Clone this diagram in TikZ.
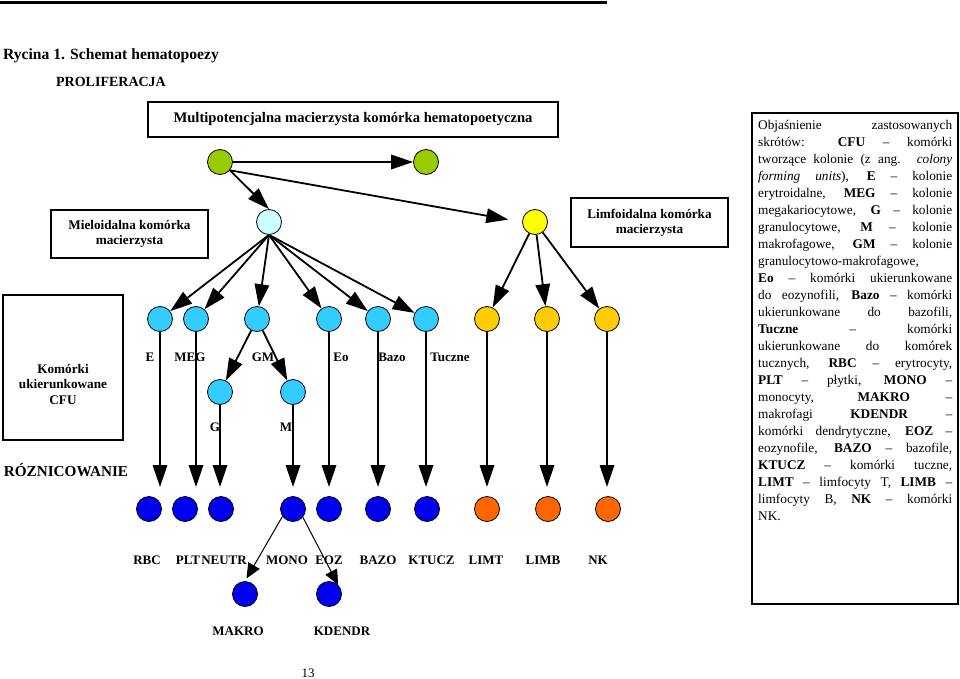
\documentclass[tikz,border=0pt]{standalone}
\usepackage{fontspec}
\setmainfont{Liberation Serif}
\usetikzlibrary{arrows.meta}
\definecolor{cgreen}{HTML}{99CC00}
\definecolor{clcyan}{HTML}{CCFFFF}
\definecolor{cyellow}{HTML}{FFFF00}
\definecolor{ccyan}{HTML}{33CCFF}
\definecolor{cgold}{HTML}{FFCC00}
\definecolor{corange}{HTML}{FF6600}
\definecolor{cblue}{HTML}{0000EE}
\begin{document}
\begin{tikzpicture}[x=1pt,y=-1pt,
  cell/.style={circle,draw=black,line width=0.8pt,minimum size=25pt,inner sep=0pt},
  arr/.style={line width=1.8pt,-{Triangle[length=22pt,width=14.5pt]}},
  thinarr/.style={line width=1pt,-{Triangle[length=15pt,width=13pt]}},
  lbl/.style={font=\fontsize{13}{15}\selectfont\bfseries,anchor=base,inner sep=0pt},
  boxlbl/.style={draw=black,line width=1.2pt,align=center,inner sep=0pt,font=\fontsize{13.2}{15}\selectfont\bfseries},
  frame/.style={draw=black,line width=1.2pt,inner sep=0pt}]
\useasboundingbox (0,0) rectangle (960,679);
\fill[white] (0,0) rectangle (960,679);
% top rule
\draw[line width=3pt] (0,2.5) -- (607,2.5);
% titles
\node[anchor=base west,inner sep=0pt,font=\fontsize{15.6}{18}\selectfont\bfseries] (title) at (3,60) {Rycina 1. Schemat hematopoezy};
\node[anchor=base,inner sep=0pt,font=\fontsize{14}{16}\selectfont\bfseries] (prolif) at (111,87) {PROLIFERACJA};
\node[anchor=base,inner sep=0pt,font=\fontsize{15.2}{17}\selectfont\bfseries] (rozn) at (66,476) {RÓZNICOWANIE};
% boxes
\node[boxlbl,font=\fontsize{14.6}{16}\selectfont\bfseries,minimum width=410pt,minimum height=35pt] (multi) at (353,119.5) {Multipotencjalna macierzysta komórka hematopoetyczna};
\node[boxlbl,minimum width=157pt,minimum height=48pt] (mielo) at (129.5,234) {Mieloidalna komórka\\macierzysta};
\node[boxlbl,minimum width=157pt,minimum height=49pt] (limfo) at (649.5,222.5) {Limfoidalna komórka\\macierzysta};
\node[frame,minimum width=120pt,minimum height=145pt] (cfubox) at (63,367.5) {};
\node[align=center,inner sep=0pt,font=\fontsize{13.2}{15.5}\selectfont\bfseries] (cfutext) at (63,384) {Komórki\\ukierunkowane\\CFU};
% cells
\node[cell,fill=cgreen] (g1) at (220,162) {};
\node[cell,fill=cgreen] (g2) at (426,162) {};
\node[cell,fill=clcyan] (lc) at (269,222) {};
\node[cell,fill=cyellow] (ly) at (535,222) {};
\node[cell,fill=ccyan] (cE) at (160,319) {};
\node[cell,fill=ccyan] (cMEG) at (196,319) {};
\node[cell,fill=ccyan] (cGM) at (257,319) {};
\node[cell,fill=ccyan] (cEo) at (329,319) {};
\node[cell,fill=ccyan] (cBazo) at (378,319) {};
\node[cell,fill=ccyan] (cTu) at (426,319) {};
\node[cell,fill=cgold] (l1) at (487,319) {};
\node[cell,fill=cgold] (l2) at (547,319) {};
\node[cell,fill=cgold] (l3) at (607,319) {};
\node[cell,fill=ccyan] (cG) at (220,392) {};
\node[cell,fill=ccyan] (cM) at (293,392) {};
\node[cell,fill=cblue] (bRBC) at (149,509) {};
\node[cell,fill=cblue] (bPLT) at (185,509) {};
\node[cell,fill=cblue] (bNEU) at (221,509) {};
\node[cell,fill=cblue] (bMONO) at (293,509) {};
\node[cell,fill=cblue] (bEOZ) at (329,509) {};
\node[cell,fill=cblue] (bBAZO) at (378,509) {};
\node[cell,fill=cblue] (bKTU) at (427,509) {};
\node[cell,fill=corange] (oT) at (487,509) {};
\node[cell,fill=corange] (oB) at (548,509) {};
\node[cell,fill=corange] (oNK) at (608,509) {};
\node[cell,fill=cblue] (bMAK) at (245,594) {};
\node[cell,fill=cblue] (bKDE) at (329,594) {};
\coordinate (tip) at (0,487);
% connectors
\draw[arr] (g1) -- (g2);
\draw[arr] (g1.-40) -- (lc.north);
\draw[arr,shorten >=14pt] (g1.-40) -- (ly.west);
\foreach \n in {cE,cMEG,cGM,cEo,cBazo,cTu} \draw[arr] (lc.south) -- (\n);
\foreach \n in {l1,l2,l3} \draw[arr] (ly) -- (\n);
\draw[arr] (cGM) -- (cG);
\draw[arr] (cGM) -- (cM);
\foreach \n in {cE,cMEG,cG,cM,cEo,cBazo,cTu,l1,l2,l3} \draw[arr] (\n.south) -- (\n.south |- tip);
\draw[thinarr,shorten >=3pt] (bMONO.-145) -- (bMAK.north);
\draw[thinarr] (bMONO.-40) -- (bKDE.45);
% cell labels
\node[lbl] (tE) at (150,361) {E};
\node[lbl] (tMEG) at (190,361) {MEG};
\node[lbl] (tGM) at (263,361) {GM};
\node[lbl] (tEo) at (341,361) {Eo};
\node[lbl] (tBazo) at (392,361) {Bazo};
\node[lbl] (tTu) at (450,361) {Tuczne};
\node[lbl] (tG) at (215,431) {G};
\node[lbl] (tM) at (286,431) {M};
% bottom labels
\node[lbl] (tRBC) at (147,564) {RBC};
\node[lbl] (tPLT) at (188,564) {PLT};
\node[lbl] (tNEU) at (224,564) {NEUTR};
\node[lbl] (tMONO) at (287,564) {MONO};
\node[lbl] (tEOZ) at (329,564) {EOZ};
\node[lbl] (tBAZO) at (378,564) {BAZO};
\node[lbl] (tKTU) at (431.5,564) {KTUCZ};
\node[lbl] (tLIMT) at (486,564) {LIMT};
\node[lbl] (tLIMB) at (543,564) {LIMB};
\node[lbl] (tNK) at (598,564) {NK};
\node[lbl] (tMAK) at (238,635) {MAKRO};
\node[lbl] (tKDE) at (342,635) {KDENDR};
\node[anchor=base,inner sep=0pt,font=\fontsize{13}{15}\selectfont] (page) at (308,677) {13};
% legend
\node[frame,minimum width=206pt,minimum height=491pt] (leg) at (855,358.5) {};
\node[anchor=base west,inner sep=0pt] (legtext) at (758,129.5) {\parbox[t]{194pt}{\fontsize{13.3}{17}\selectfont\parindent=0pt
\makebox[\linewidth][s]{Objaśnienie zastosowanych}\par
\makebox[\linewidth][s]{skrótów: \textbf{CFU} – komórki}\par
\makebox[\linewidth][s]{tworzące kolonie (z ang. \textit{colony}}\par
\makebox[\linewidth][s]{\textit{forming units}), \textbf{E} – kolonie}\par
\makebox[\linewidth][s]{erytroidalne, \textbf{MEG} – kolonie}\par
\makebox[\linewidth][s]{megakariocytowe, \textbf{G} – kolonie}\par
\makebox[\linewidth][s]{granulocytowe, \textbf{M} – kolonie}\par
\makebox[\linewidth][s]{makrofagowe, \textbf{GM} – kolonie}\par
granulocytowo-makrofagowe,\par
\makebox[\linewidth][s]{\textbf{Eo} – komórki ukierunkowane}\par
\makebox[\linewidth][s]{do eozynofili, \textbf{Bazo} – komórki}\par
\makebox[\linewidth][s]{ukierunkowane do bazofili,}\par
\makebox[\linewidth][s]{\textbf{Tuczne} – komórki}\par
\makebox[\linewidth][s]{ukierunkowane do komórek}\par
\makebox[\linewidth][s]{tucznych, \textbf{RBC} – erytrocyty,}\par
\makebox[\linewidth][s]{\textbf{PLT} – płytki, \textbf{MONO} –}\par
\makebox[\linewidth][s]{monocyty, \textbf{MAKRO} –}\par
\makebox[\linewidth][s]{makrofagi \textbf{KDENDR} –}\par
\makebox[\linewidth][s]{komórki dendrytyczne, \textbf{EOZ} –}\par
\makebox[\linewidth][s]{eozynofile, \textbf{BAZO} – bazofile,}\par
\makebox[\linewidth][s]{\textbf{KTUCZ} – komórki tuczne,}\par
\makebox[\linewidth][s]{\textbf{LIMT} – limfocyty T, \textbf{LIMB} –}\par
\makebox[\linewidth][s]{limfocyty B, \textbf{NK} – komórki}\par
NK.\par}};
\end{tikzpicture}
\end{document}
